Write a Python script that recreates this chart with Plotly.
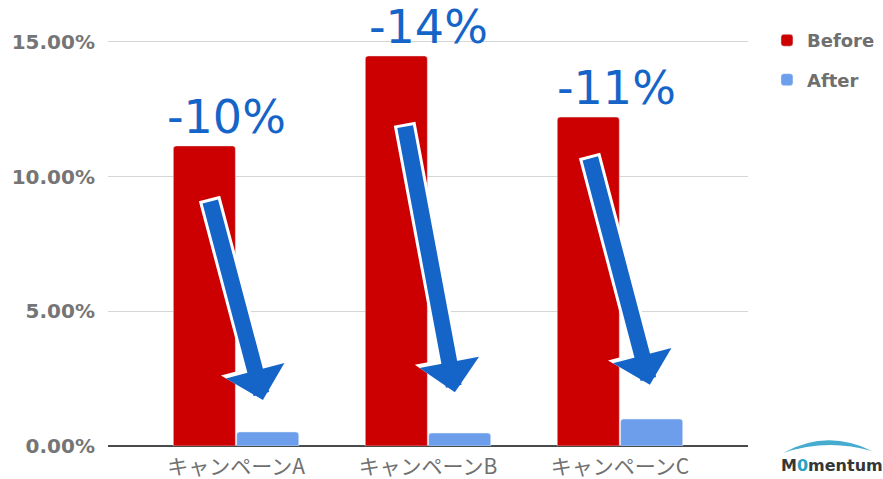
import plotly.graph_objects as go

categories = ["キャンペーンA", "キャンペーンB", "キャンペーンC"]
before = [0.1114, 0.1448, 0.1221]
after = [0.0052, 0.0048, 0.0100]
change_labels = ["-10%", "-14%", "-11%"]
label_xshift = [-10, 0, -3]

# decorative arrow geometry: tip (category offset, y) and tail offset in pixels
arrow_tip_dx = [0.14, 0.14, 0.156]
arrow_tip_y = [0.0171, 0.0200, 0.0227]
arrow_ax = [-53, -50, -60]
arrow_ay = [-200, -267, -228]

RED = "#cc0000"
BLUE_BAR = "#6d9eeb"
ARROW = "#1565c8"

fig = go.Figure()
fig.add_trace(go.Bar(name="Before", x=categories, y=before, marker_color=RED,
                     legendgroup="b"))
fig.add_trace(go.Bar(name="After", x=categories, y=after, marker_color=BLUE_BAR,
                     legendgroup="a"))

annotations = []
for i in range(len(categories)):
    L = (arrow_ax[i] ** 2 + arrow_ay[i] ** 2) ** 0.5
    k = (L + 3) / L
    # white outline
    annotations.append(dict(
        x=i + arrow_tip_dx[i], y=arrow_tip_y[i], xref="x", yref="y",
        ax=arrow_ax[i] * k, ay=arrow_ay[i] * k, axref="pixel", ayref="pixel",
        text="", showarrow=True, arrowhead=1, arrowwidth=22, arrowsize=0.52,
        arrowcolor="white"))
    annotations.append(dict(
        x=i + arrow_tip_dx[i], y=arrow_tip_y[i], xref="x", yref="y",
        ax=arrow_ax[i], ay=arrow_ay[i], axref="pixel", ayref="pixel",
        text="", showarrow=True, arrowhead=1, arrowwidth=16, arrowsize=0.63,
        arrowcolor=ARROW))
    annotations.append(dict(
        x=i, y=before[i], xref="x", yref="y", text=change_labels[i],
        showarrow=False, yanchor="middle", yshift=29, xshift=label_xshift[i],
        font=dict(family="DejaVu Sans", size=46, color=ARROW)))

# logo
annotations.append(dict(
    x=1.1313, y=-0.0441, xref="paper", yref="paper", showarrow=False,
    xanchor="center", yanchor="middle",
    text="M<span style='color:#2aa0c2'>0</span>mentum",
    font=dict(family="DejaVu Sans", size=16, color="#363636", weight="bold")))

shapes = [dict(
    type="path", xref="paper", yref="paper", layer="above",
    path="M1.0547,-0.0162 Q1.1234,0.0400 1.1938,-0.0116 Q1.1234,0.0186 1.0547,-0.0162 Z",
    fillcolor="#45acd0", line=dict(width=0))]

fig.update_layout(
    width=883, height=479,
    margin=dict(l=108, r=135, t=15, b=33),
    paper_bgcolor="white", plot_bgcolor="white",
    barmode="group", bargap=0.34, bargroupgap=0.02, barcornerradius=3,
    showlegend=True,
    legend=dict(xref="container", yref="container", x=0.8686, y=0.954,
                xanchor="left", yanchor="top",
                tracegroupgap=13, bgcolor="rgba(0,0,0,0)",
                font=dict(family="DejaVu Sans", size=18, color="#6f6f6f",
                          weight="bold")),
    annotations=annotations, shapes=shapes,
    xaxis=dict(range=[-0.667, 2.667], showgrid=False, showline=False,
               automargin=False, ticklabelstandoff=6,
               tickfont=dict(family="Noto Sans CJK JP", size=21, color="#707070"),
               ticks="", fixedrange=True),
    yaxis=dict(range=[0, 0.16], dtick=0.05, tick0=0, tickformat=".2%",
               automargin=False, fixedrange=True,
               showgrid=True, gridcolor="#d6d6d6", gridwidth=1,
               zeroline=True, zerolinecolor="#4a4a4a", zerolinewidth=1.5,
               ticklabelstandoff=12,
               tickfont=dict(family="DejaVu Sans", size=20, color="#757575",
                             weight="bold")),
)

fig.write_html("out.html", config={"displayModeBar": False},
               post_script="document.body.style.margin='0';document.body.style.overflow='hidden';")
